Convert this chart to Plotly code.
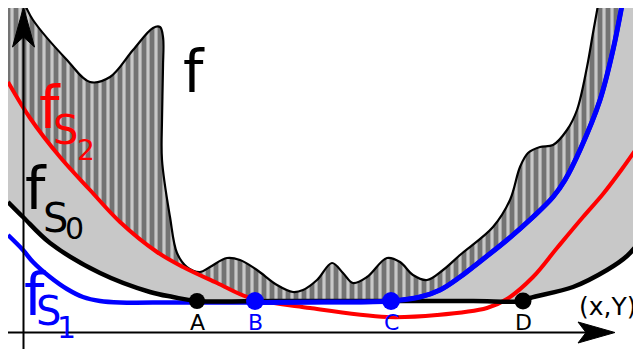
import plotly.graph_objects as go

# ---- data (diagram units: origin at the axes crossing, y upward) ----
f_x = [-15, -8, 2, 10, 44, 67, 87, 110, 130, 137, 140, 140, 139, 139, 147, 154, 164, 177, 187, 204, 217, 234, 254, 270, 280, 294, 309, 320, 330, 344, 364, 377, 390, 404, 420, 437, 470, 487, 497, 505, 517, 530, 544, 554, 564, 570, 575, 582, 618]
f_y = [372, 347, 327, 312, 272, 250, 255, 282, 304, 305, 295, 265, 212, 172, 115, 79, 65, 60, 65, 74, 72, 62, 47, 40, 42, 52, 69, 59, 49, 55, 74, 70, 57, 52, 62, 77, 105, 132, 165, 179, 185, 187, 202, 222, 265, 299, 327, 372, 392]

fs0_x = [-15, 0, 27, 77, 127, 150, 174, 250, 350, 450, 500, 507, 550, 584, 604, 618]
fs0_y = [130, 115, 89, 59, 40, 35, 31, 31, 31, 31, 31, 34, 45, 62, 76, 92]

fs1_x = [-15, 0, 10, 27, 44, 60, 77, 97, 150, 232, 300, 368, 397, 417, 437, 450, 484, 510, 530, 542, 557, 577, 590, 599, 605]
fs1_y = [97, 82, 70, 55, 43, 35, 31, 29.5, 29.5, 29.5, 30, 31, 35, 42, 55, 65, 92, 115, 135, 152, 182, 232, 282, 327, 362]

fs2_x = [-15, 7, 37, 67, 97, 134, 160, 194, 227, 287, 364, 414, 464, 484, 510, 534, 560, 580, 599, 618]
fs2_y = [250, 214, 175, 142, 110, 80, 65, 49, 34, 24, 15, 17, 24, 33, 55, 84, 115, 138, 163, 190]

pts_x = [174, 232, 368, 500]
pts_y = [31, 31, 31, 31]
pts_lab = ["A", "B", "C", "D"]
pts_col = ["black", "blue", "blue", "black"]
pts_size = [16, 18, 18, 17]

xB = 232

RED, BLUE, BLACK = "#ff0000", "#0000ff", "#000000"
LIGHT, DARK = "#c8c8c8", "#737373"
FONT = "DejaVu Sans"

# lower edge of the striped zone = upper of f_S1 / f_S2 (red before B, blue after)
low_x = [x for x in fs2_x if x < xB - 2] + [xB] + [x for x in fs1_x if x > xB]
low_y = [y for x, y in zip(fs2_x, fs2_y) if x < xB - 2] + [31] + [y for x, y in zip(fs1_x, fs1_y) if x > xB]

fig = go.Figure()
sp = dict(shape="spline", smoothing=1)

# light grey zone between f_S0 and f
fig.add_trace(go.Scatter(x=fs0_x, y=fs0_y, mode="lines", line=dict(width=0, **sp)))
fig.add_trace(go.Scatter(x=f_x, y=f_y, mode="lines", line=dict(width=0, **sp),
                         fill="tonexty", fillcolor=LIGHT))
# striped zone between max(f_S1, f_S2) and f
fig.add_trace(go.Scatter(x=low_x, y=low_y, mode="lines", line=dict(width=0, **sp)))
fig.add_trace(go.Scatter(x=f_x, y=f_y, mode="lines", line=dict(width=0, **sp),
                         fill="tonexty", fillcolor=DARK,
                         fillpattern=dict(shape="|", bgcolor=DARK, fgcolor=LIGHT,
                                          size=8, solidity=0.4, fillmode="replace")))
# curves
fig.add_trace(go.Scatter(x=f_x, y=f_y, mode="lines", line=dict(color=BLACK, width=2.2, **sp)))
fig.add_trace(go.Scatter(x=fs2_x, y=fs2_y, mode="lines", line=dict(color=RED, width=4, **sp)))
fig.add_trace(go.Scatter(x=fs1_x, y=fs1_y, mode="lines", line=dict(color=BLUE, width=4.5, **sp)))
fig.add_trace(go.Scatter(x=fs0_x, y=fs0_y, mode="lines", line=dict(color=BLACK, width=4.5, **sp)))
seg_x = [xB] + [x for x in fs1_x if x > xB]
seg_y = [29.5] + [y for x, y in zip(fs1_x, fs1_y) if x > xB]
fig.add_trace(go.Scatter(x=seg_x, y=seg_y, mode="lines", line=dict(color=BLUE, width=5, **sp)))
fig.add_trace(go.Scatter(x=pts_x, y=pts_y, mode="markers",
                         marker=dict(color=pts_col, size=pts_size, opacity=1, line=dict(width=0))))

# axes with arrowheads
shapes = [
    dict(type="line", x0=0.5, x1=0.5, y0=-20, y1=300, line=dict(color=BLACK, width=2)),
    dict(type="line", x0=-20, x1=565, y0=-0.5, y1=-0.5, line=dict(color=BLACK, width=2)),
    dict(type="path", path="M 0.5,325 L 11.5,285 L 0.5,295 L -10.5,285 Z",
         fillcolor=BLACK, line=dict(color=BLACK, width=1)),
    dict(type="path", path="M 592,-0.5 L 555,10 L 563,-0.5 L 555,-11 Z",
         fillcolor=BLACK, line=dict(color=BLACK, width=1)),
]
for s in shapes:
    s.update(xref="x", yref="y")

ann = []
def txt(x, y, t, size, color):
    ann.append(dict(x=x, y=y, xref="x", yref="y", text=t, showarrow=False,
                    xanchor="center", yanchor="middle",
                    font=dict(family=FONT, size=size, color=color)))

txt(171, 260, "f", 58, BLACK)
txt(27, 224, "f", 58, RED); txt(42, 202, "S", 40, RED); txt(63, 182, "2", 28, RED)
txt(13, 143, "f", 58, BLACK); txt(32, 114, "S", 40, BLACK); txt(51, 104, "0", 30, BLACK)
txt(12, 37, "f", 58, BLUE); txt(25, 21, "S", 40, BLUE); txt(43, 5, "1", 30, BLUE)
for x, l, c in zip(pts_x, pts_lab, pts_col):
    txt(x, 10, l, 22, c)
txt(585, 26, "(x,Y)", 25, BLACK)

# the page body adds an 8 px offset, so the figure covers the window from (8, 8)
fig.update_layout(
    width=633, height=341, margin=dict(l=0, r=0, t=0, b=0),
    paper_bgcolor="white", plot_bgcolor="white", showlegend=False,
    xaxis=dict(range=[-15, 618], visible=False, fixedrange=True),
    yaxis=dict(range=[-17, 324], visible=False, fixedrange=True),
    shapes=shapes, annotations=ann, hovermode=False,
)
fig.write_html("out.html")
